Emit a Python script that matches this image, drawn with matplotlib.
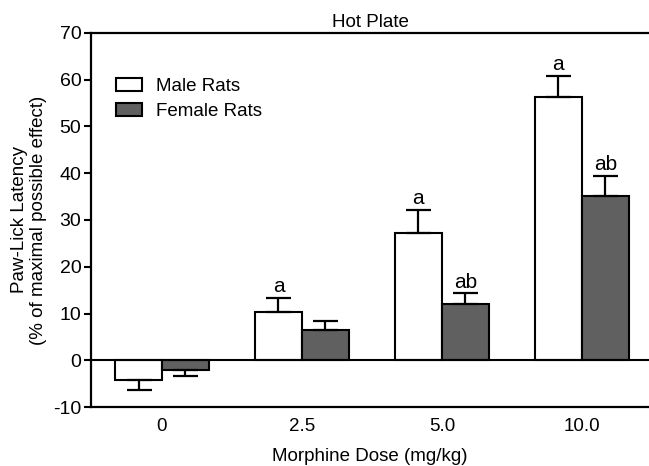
import numpy as np
import matplotlib
matplotlib.use("Agg")
import matplotlib.pyplot as plt
from matplotlib.patches import Patch

plt.rcParams['font.family'] = ['Liberation Sans', 'DejaVu Sans']
plt.rcParams['axes.unicode_minus'] = False

doses = ["0", "2.5", "5.0", "10.0"]
male_mean = [-4.2, 10.4, 27.2, 56.4]
male_sem = [2.2, 3.0, 5.0, 4.5]
female_mean = [-2.0, 6.5, 12.1, 35.2]
female_sem = [1.3, 2.0, 2.3, 4.3]
male_marks = ["", "a", "a", "a"]
female_marks = ["", "", "ab", "ab"]

fig = plt.figure(figsize=(6.49, 4.66), dpi=100)
ax = fig.add_axes([0.1402, 0.1266, 0.8598, 0.8026])

x = np.arange(len(doses))
w = 0.335
female_color = "#606060"

def one_sided(vals, errs):
    lo = [e if v < 0 else 0 for v, e in zip(vals, errs)]
    hi = [0 if v < 0 else e for v, e in zip(vals, errs)]
    return [lo, hi]

ekw = dict(ecolor="black", elinewidth=1.6, capsize=9, capthick=1.6)
ax.bar(x - w / 2, male_mean, w, color="white", edgecolor="black", linewidth=1.5,
       yerr=one_sided(male_mean, male_sem), error_kw=ekw, zorder=2)
ax.bar(x + w / 2, female_mean, w, color=female_color, edgecolor="black", linewidth=1.5,
       yerr=one_sided(female_mean, female_sem), error_kw=ekw, zorder=2)

# significance letters above the error caps
for i in range(len(doses)):
    if male_marks[i]:
        ax.annotate(male_marks[i], (x[i] - w / 2, male_mean[i] + male_sem[i]),
                    xytext=(0, 1), textcoords="offset points",
                    ha="center", va="bottom", fontsize=15)
    if female_marks[i]:
        ax.annotate(female_marks[i], (x[i] + w / 2, female_mean[i] + female_sem[i]),
                    xytext=(0, 1), textcoords="offset points",
                    ha="center", va="bottom", fontsize=15)

ax.axhline(0, color="black", linewidth=1.5, zorder=3)

ax.set_xlim(-0.507, 3.48)
ax.set_ylim(-10, 70)
ax.set_yticks(np.arange(-10, 71, 10))
ax.set_xticks(x)
ax.set_xticklabels(doses)
ax.tick_params(axis="y", direction="out", length=5, width=1.5, labelsize=14, pad=2)
ax.tick_params(axis="x", length=0, labelsize=13.5, pad=8)

for s in ["left", "bottom", "top"]:
    ax.spines[s].set_linewidth(1.6)
ax.spines["right"].set_visible(False)

ax.set_title("Hot Plate", fontsize=13.5, pad=4)
ax.set_xlabel("Morphine Dose (mg/kg)", fontsize=13.5, labelpad=9)
ax.set_ylabel("Paw-Lick Latency\n(% of maximal possible effect)", fontsize=13.5, labelpad=4)

handles = [Patch(facecolor="white", edgecolor="black", linewidth=1.5, label="Male Rats"),
           Patch(facecolor=female_color, edgecolor="black", linewidth=1.5, label="Female Rats")]
ax.legend(handles=handles, loc="upper left", bbox_to_anchor=(0.025, 0.91), frameon=False,
          fontsize=13.5, handlelength=1.4, handleheight=0.7, labelspacing=0.4,
          handletextpad=0.7, borderaxespad=0.2)

fig.savefig("out.png", dpi=100)
